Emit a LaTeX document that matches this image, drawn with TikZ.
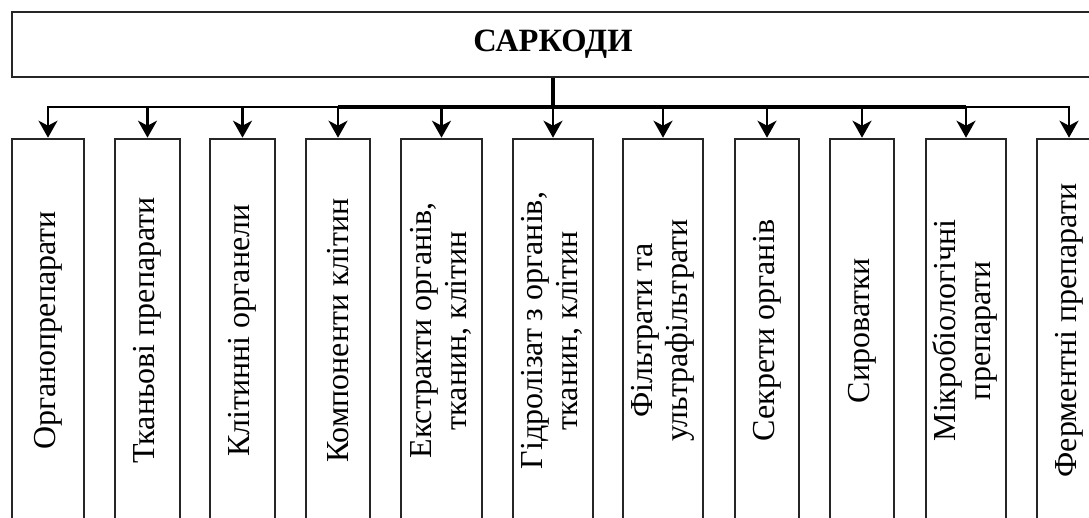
\documentclass[tikz,border=0pt]{standalone}
\usepackage{fontspec}
\setmainfont{Liberation Serif}
\usetikzlibrary{arrows.meta}
\begin{document}
\begin{tikzpicture}[x=1pt,y=-1pt,
  txt/.style={font=\fontsize{32}{35}\selectfont},
  box/.style={draw=black!85, line width=2.6pt, minimum height=383pt, inner sep=0pt, txt},
  link/.style={draw=black, line width=2.6pt, -{Stealth[length=17pt,width=19pt,inset=5pt]}},
  trunk/.style={draw=black, line width=4pt},
]
\useasboundingbox (0,0) rectangle (1089,517);
\node[draw=black!85, line width=2.8pt, minimum width=1082pt, minimum height=65pt, inner sep=0pt, font=\fontsize{32.5}{36}\selectfont\bfseries] (top) at (553,44.5) {САРКОДИ};

\node[box, minimum width=72pt] (b1) at (48,330.5) {\rotatebox{90}{Органопрепарати}};
\node[box, minimum width=65pt] (b2) at (147.5,330.5) {\rotatebox{90}{Тканьові препарати}};
\node[box, minimum width=65pt] (b3) at (242.5,330.5) {\rotatebox{90}{Клітинні органели}};
\node[box, minimum width=64pt] (b4) at (338,330.5) {\rotatebox{90}{Компоненти клітин}};
\node[box, minimum width=81pt] (b5) at (441.5,330.5) {\rotatebox{90}{\begin{tabular}{@{}c@{}}Екстракти органів,\\тканин, клітин\end{tabular}}};
\node[box, minimum width=80pt] (b6) at (553,330.5) {\rotatebox{90}{\begin{tabular}{@{}c@{}}Гідролізат з органів,\\тканин, клітин\end{tabular}}};
\node[box, minimum width=80pt] (b7) at (663,330.5) {\rotatebox{90}{\begin{tabular}{@{}c@{}}Фільтрати та\\ультрафільтрати\end{tabular}}};
\node[box, minimum width=64pt] (b8) at (767,330.5) {\rotatebox{90}{Секрети органів}};
\node[box, minimum width=64pt] (b9) at (862,330.5) {\rotatebox{90}{Сироватки}};
\node[box, minimum width=80pt] (b10) at (966,330.5) {\rotatebox{90}{\begin{tabular}{@{}c@{}}Мікробіологічні\\препарати\end{tabular}}};
\node[box, minimum width=64pt] (b11) at (1069,330.5) {\rotatebox{90}{Ферментні препарати}};

\coordinate (bus) at (553,107);
\coordinate (busL) at (338,107);
\coordinate (busR) at (966,107);
\draw[trunk] (top.south) -- (bus);
\draw[trunk] (busL) -- (busR);
\foreach \b in {b1,b2,b3,b4,b5,b6,b7,b8,b9,b10,b11}{
  \draw[link] (bus) -| (\b.north);
}
\end{tikzpicture}
\end{document}
